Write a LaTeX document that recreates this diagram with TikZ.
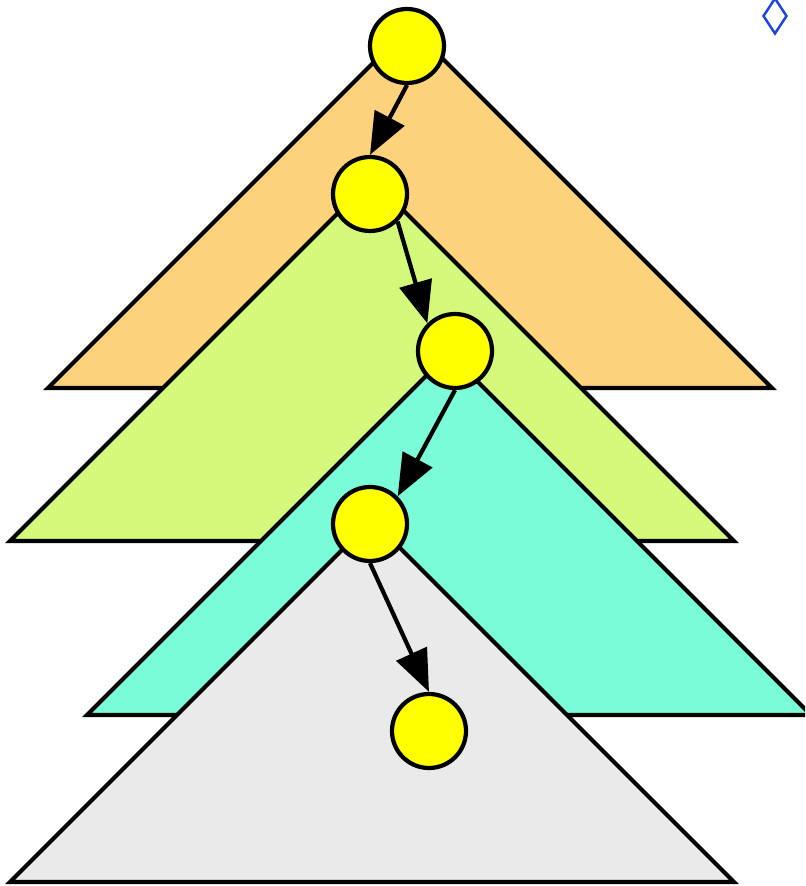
\documentclass[tikz,border=0pt]{standalone}
\usepackage{tikz}
\usetikzlibrary{arrows.meta,positioning,shapes.geometric}

\definecolor{treeA}{HTML}{FDD27C}
\definecolor{treeB}{HTML}{D4F97A}
\definecolor{treeC}{HTML}{79FCD7}
\definecolor{treeD}{HTML}{EAEAEA}
\definecolor{nodefill}{HTML}{FFFF00}
\definecolor{markblue}{HTML}{1A44E6}

\tikzset{
    subtree/.style={draw=black, line width=1.2pt},
    vertex/.style={circle, draw=black, fill=nodefill, line width=1.2pt, minimum size=0.74cm, inner sep=0pt},
    pathedge/.style={line width=1.2pt, -{Triangle[length=0.42cm, width=0.33cm]}}
}

\begin{document}
\begin{tikzpicture}
\useasboundingbox (0,0) rectangle (8.05,8.86);
\clip (0,0) rectangle (8.05,8.86);

% Nested subtrees, back to front
\foreach \col/\x/\y in {treeA/0.48/4.98, treeB/0.10/3.45, treeC/0.87/1.71, treeD/0.10/0.04}
    \draw[subtree, fill=\col] (\x,\y) -- ++(7.24,0) -- ++(-3.62,3.62) -- cycle;

% Search path
\node[vertex] (v1) at (4.07,8.40) {};
\node[vertex] (v2) at (3.70,6.92) {};
\node[vertex] (v3) at (4.55,5.35) {};
\node[vertex] (v4) at (3.70,3.62) {};
\node[vertex] (v5) at (4.29,1.55) {};

\draw[pathedge] (v1.south) -- (v2.north);
\draw[pathedge] (v2.south east) -- (v3.north west);
\draw[pathedge] (v3.south) -- (v4.north east);
\draw[pathedge] (v4.south) -- (v5.north);

% Corner mark
\node[diamond, draw=markblue, line width=0.7pt, minimum width=0.24cm, minimum height=0.36cm, inner sep=0pt] (mark) at (7.75,8.70) {};

\end{tikzpicture}
\end{document}
